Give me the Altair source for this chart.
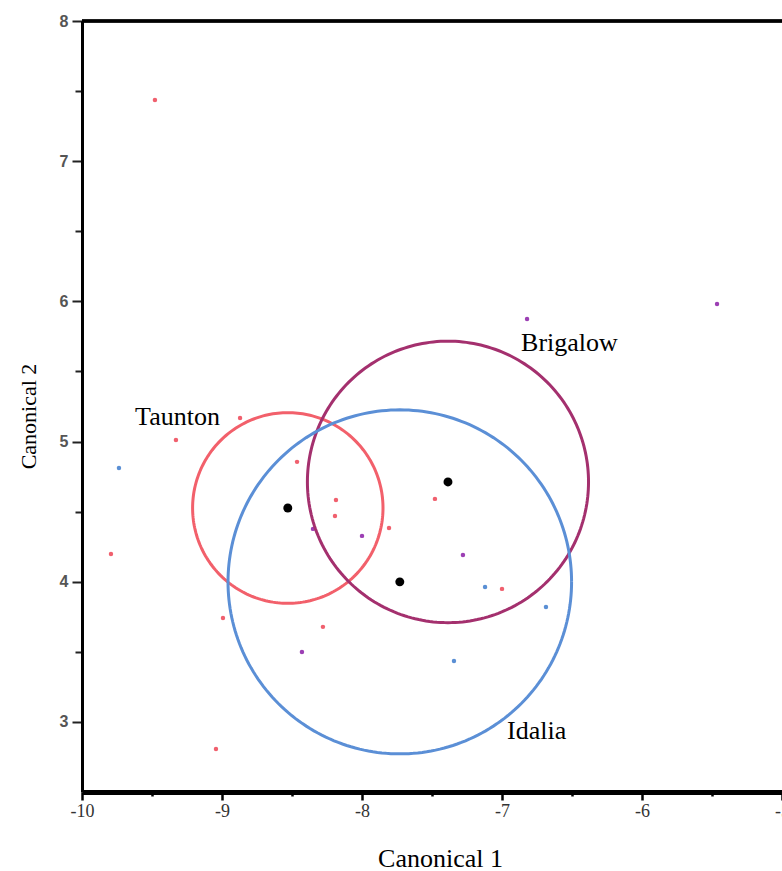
import numpy as np
import pandas as pd
import altair as alt

# Group centroids and the radius of each group's confidence circle (canonical units)
groups = ["Taunton", "Brigalow", "Idalia"]
center_x = [-8.53, -7.386, -7.73]
center_y = [4.526, 4.712, 3.999]
radius = [0.68, 1.004, 1.227]
circle_colors = ["#f2606b", "#a4306e", "#5b8fd6"]
point_colors = ["#f0606e", "#9c3fb4", "#5a8fd4"]

# Individual observations per group
taunton_x = [-9.479, -9.329, -8.871, -9.793, -8.464, -8.186, -8.193, -7.807,
             -7.479, -7.0, -8.993, -8.279, -9.043]
taunton_y = [7.437, 5.011, 5.168, 4.198, 4.855, 4.583, 4.469, 4.384,
             4.591, 3.949, 3.742, 3.678, 2.807]
brigalow_x = [-6.821, -5.464, -8.35, -8.0, -7.279, -8.429]
brigalow_y = [5.874, 5.981, 4.377, 4.327, 4.191, 3.499]
idalia_x = [-9.736, -7.121, -6.686, -7.343]
idalia_y = [4.812, 3.963, 3.82, 3.435]

# Where each group's name is written
label_x = [-9.621, -6.864, -6.964]
label_y = [5.118, 5.646, 2.879]

x_ticks = [-10, -9.5, -9, -8.5, -8, -7.5, -7, -6.5, -6, -5.5, -5]
y_ticks = [3, 3.5, 4, 4.5, 5, 5.5, 6, 6.5, 7, 7.5, 8]

obs = pd.DataFrame({
    "x": taunton_x + brigalow_x + idalia_x,
    "y": taunton_y + brigalow_y + idalia_y,
    "group": ["Taunton"] * len(taunton_x) + ["Brigalow"] * len(brigalow_x)
             + ["Idalia"] * len(idalia_x),
})

centers = pd.DataFrame({"x": center_x, "y": center_y, "group": groups})
labels = pd.DataFrame({"x": label_x, "y": label_y, "group": groups})

# Outline of each circle, traced around its centroid
theta = np.linspace(0, 2 * np.pi, 241)
rings = []
for g, cx, cy, r in zip(groups, center_x, center_y, radius):
    rings.append(pd.DataFrame({
        "x": cx + r * np.cos(theta),
        "y": cy + r * np.sin(theta),
        "k": np.arange(len(theta)),
        "group": g,
    }))
rings = pd.concat(rings, ignore_index=True)

xscale = alt.Scale(domain=[-10, -5], nice=False, zero=False)
yscale = alt.Scale(domain=[2.5, 8], nice=False, zero=False)

x_axis = alt.Axis(
    values=x_ticks,
    labelExpr="datum.value % 1 === 0 ? '' + datum.value : ''",
    tickSize={"condition": {"test": "datum.value % 1 !== 0", "value": 4}, "value": 8},
    tickWidth=2.5, tickColor="black",
    domainColor="black", domainWidth=5,
    labelFont="Liberation Serif", labelFontSize=18, labelColor="#333333",
    labelPadding=2, labelOverlap=False, labelFlush=False,
    grid=False,
    title="Canonical 1", titleFont="Liberation Serif", titleFontSize=26,
    titleFontWeight="normal", titleColor="black",
    titleX=358, titleY=74, titleBaseline="alphabetic", titleAlign="center",
)

y_axis = alt.Axis(
    values=y_ticks,
    labelExpr="datum.value % 1 === 0 ? '' + datum.value : ''",
    tickSize={"condition": {"test": "datum.value % 1 !== 0", "value": 7}, "value": 10},
    tickWidth=2, tickColor="#222222",
    domainColor="black", domainWidth=3,
    labelFont="Liberation Sans", labelFontSize=16, labelFontWeight="bold",
    labelColor="#555555", labelPadding=4, labelOverlap=False,
    grid=False,
    title="Canonical 2", titleFont="Liberation Serif", titleFontSize=22,
    titleFontWeight="normal", titleColor="black", titleAngle=270,
    titleX=-47, titleY=395, titleBaseline="alphabetic", titleAlign="center",
)

color_circle = alt.Color("group:N", scale=alt.Scale(domain=groups, range=circle_colors), legend=None)
color_point = alt.Color("group:N", scale=alt.Scale(domain=groups, range=point_colors), legend=None)

top_border = alt.Chart(centers).mark_rule(color="black", strokeWidth=3).encode(
    x=alt.datum(-10, scale=xscale, axis=x_axis),
    x2=alt.datum(-5),
    y=alt.datum(8, scale=yscale, axis=y_axis),
)

points = alt.Chart(obs).mark_point(filled=True, shape="circle", size=20, opacity=1).encode(
    x=alt.X("x:Q", scale=xscale, axis=x_axis),
    y=alt.Y("y:Q", scale=yscale, axis=y_axis),
    color=color_point,
)

circles = alt.Chart(rings).mark_line(strokeWidth=3).encode(
    x=alt.X("x:Q", scale=xscale, axis=x_axis),
    y=alt.Y("y:Q", scale=yscale, axis=y_axis),
    order="k:Q",
    detail="group:N",
    color=color_circle,
)

dots = alt.Chart(centers).mark_point(filled=True, shape="circle", size=80, color="black", opacity=1).encode(
    x=alt.X("x:Q", scale=xscale, axis=x_axis),
    y=alt.Y("y:Q", scale=yscale, axis=y_axis),
)

names = alt.Chart(labels).mark_text(
    align="left", baseline="alphabetic", font="Liberation Serif", fontSize=26, color="black"
).encode(
    x=alt.X("x:Q", scale=xscale, axis=x_axis),
    y=alt.Y("y:Q", scale=yscale, axis=y_axis),
    text="group:N",
)

chart = alt.layer(top_border, points, circles, dots, names).properties(
    width=700,
    height=771,
    autosize=alt.AutoSizeParams(type="none"),
    padding={"left": 82, "top": 21, "right": 0, "bottom": 79},
).configure_view(stroke=None).resolve_scale(color="independent")

chart.save("out.html", embed_options={"renderer": "svg", "actions": False})
